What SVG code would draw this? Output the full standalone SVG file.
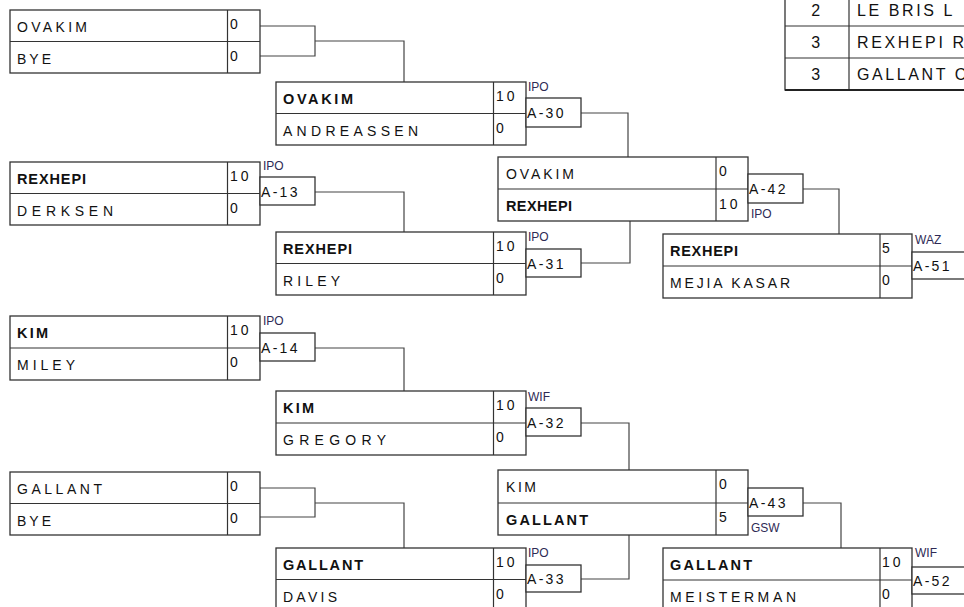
<svg xmlns="http://www.w3.org/2000/svg" width="964" height="607" viewBox="0 0 964 607">
<style>
text{font-family:"Liberation Sans",Arial,sans-serif;fill:#111;}
.nm{font-size:14px;}
.b{font-weight:bold;font-size:14.5px;}
.sc{font-size:14px;letter-spacing:3px;}
.al{font-size:14px;letter-spacing:2.3px;}
.rs{font-size:12px;fill:#2e2a55;}
.bx{fill:#fff;stroke:#333;stroke-width:1.3;}
.ln{fill:none;stroke:#333;stroke-width:1.2;}
.cn{fill:none;stroke:#444;stroke-width:1.2;}
.tb{font-size:16px;letter-spacing:2.6px;}
</style>
<rect width="964" height="607" fill="#fff"/>

<g id="connectors">
<polyline class="cn" points="260,26 315,26 315,56 260,56"/>
<polyline class="cn" points="315,41 404,41 404,82"/>
<polyline class="cn" points="315,192 404,192 404,232"/>
<polyline class="cn" points="315,348 404,348 404,391"/>
<polyline class="cn" points="260,488 315,488 315,517 260,517"/>
<polyline class="cn" points="315,503 404,503 404,548"/>
<polyline class="cn" points="581,113 628,113 628,157"/>
<polyline class="cn" points="581,263 630,263 630,221"/>
<polyline class="cn" points="803,189 839,189 839,234"/>
<polyline class="cn" points="581,423 629,423 629,470"/>
<polyline class="cn" points="581,579 629,579 629,535"/>
<polyline class="cn" points="803,503 841,503 841,548"/>
</g>

<g id="standings">
<rect x="785" y="-10" width="190" height="100" class="bx"/>
<line x1="785" y1="26" x2="964" y2="26" class="ln"/>
<line x1="785" y1="58" x2="964" y2="58" class="ln"/>
<line x1="849" y1="-10" x2="849" y2="90" class="ln"/>
<line x1="785" y1="90" x2="964" y2="90" stroke="#222" stroke-width="2.2"/>
<text class="tb" x="817" y="16" text-anchor="middle">2</text>
<text class="tb" x="857" y="16">LE BRIS L</text>
<text class="tb" x="817" y="48" text-anchor="middle">3</text>
<text class="tb" x="857" y="48">REXHEPI R</text>
<text class="tb" x="817" y="80" text-anchor="middle">3</text>
<text class="tb" x="857" y="80">GALLANT C</text>
</g>

<!-- Column 1 -->
<g id="m1">
<rect x="10" y="10" width="250" height="63" class="bx"/>
<line x1="10" y1="41.5" x2="260" y2="41.5" class="ln"/>
<line x1="227.5" y1="10" x2="227.5" y2="73" class="ln"/>
<text class="nm" x="17" y="32" textLength="70">OVAKIM</text>
<text class="sc" x="230" y="29">0</text>
<text class="nm" x="17" y="64" textLength="34">BYE</text>
<text class="sc" x="230" y="61">0</text>
</g>
<g id="m2">
<rect x="10" y="162" width="250" height="63" class="bx"/>
<line x1="10" y1="193.5" x2="260" y2="193.5" class="ln"/>
<line x1="227.5" y1="162" x2="227.5" y2="225" class="ln"/>
<text class="nm b" x="17" y="184" textLength="69">REXHEPI</text>
<text class="sc" x="230" y="181">10</text>
<text class="nm" x="17" y="216" textLength="96">DERKSEN</text>
<text class="sc" x="230" y="213">0</text>
<rect x="260" y="177" width="55" height="28" class="bx"/>
<text class="al" x="261" y="197">A-13</text>
<text class="rs" x="263" y="170">IPO</text>
</g>
<g id="m3">
<rect x="10" y="316" width="250" height="64" class="bx"/>
<line x1="10" y1="348" x2="260" y2="348" class="ln"/>
<line x1="227.5" y1="316" x2="227.5" y2="380" class="ln"/>
<text class="nm b" x="17" y="338" textLength="31">KIM</text>
<text class="sc" x="230" y="335">10</text>
<text class="nm" x="17" y="370" textLength="58">MILEY</text>
<text class="sc" x="230" y="367">0</text>
<rect x="260" y="333" width="55" height="28" class="bx"/>
<text class="al" x="261" y="353">A-14</text>
<text class="rs" x="263" y="325">IPO</text>
</g>
<g id="m4">
<rect x="10" y="472" width="250" height="63" class="bx"/>
<line x1="10" y1="503.5" x2="260" y2="503.5" class="ln"/>
<line x1="227.5" y1="472" x2="227.5" y2="535" class="ln"/>
<text class="nm" x="17" y="494" textLength="85">GALLANT</text>
<text class="sc" x="230" y="491">0</text>
<text class="nm" x="17" y="526" textLength="34">BYE</text>
<text class="sc" x="230" y="523">0</text>
</g>

<!-- Column 2 -->
<g id="m5">
<rect x="276" y="82" width="250" height="63" class="bx"/>
<line x1="276" y1="113.5" x2="526" y2="113.5" class="ln"/>
<line x1="493.5" y1="82" x2="493.5" y2="145" class="ln"/>
<text class="nm b" x="283" y="104" textLength="70">OVAKIM</text>
<text class="sc" x="496" y="101">10</text>
<text class="nm" x="283" y="136" textLength="135">ANDREASSEN</text>
<text class="sc" x="496" y="133">0</text>
<rect x="526" y="98" width="55" height="29" class="bx"/>
<text class="al" x="527" y="118">A-30</text>
<text class="rs" x="528" y="91">IPO</text>
</g>
<g id="m6">
<rect x="276" y="232" width="250" height="63" class="bx"/>
<line x1="276" y1="263.5" x2="526" y2="263.5" class="ln"/>
<line x1="493.5" y1="232" x2="493.5" y2="295" class="ln"/>
<text class="nm b" x="283" y="254" textLength="69">REXHEPI</text>
<text class="sc" x="496" y="251">10</text>
<text class="nm" x="283" y="286" textLength="57">RILEY</text>
<text class="sc" x="496" y="283">0</text>
<rect x="526" y="249" width="55" height="28" class="bx"/>
<text class="al" x="527" y="269">A-31</text>
<text class="rs" x="528" y="241">IPO</text>
</g>
<g id="m7">
<rect x="276" y="391" width="250" height="64" class="bx"/>
<line x1="276" y1="423" x2="526" y2="423" class="ln"/>
<line x1="493.5" y1="391" x2="493.5" y2="455" class="ln"/>
<text class="nm b" x="283" y="413" textLength="31">KIM</text>
<text class="sc" x="496" y="410">10</text>
<text class="nm" x="283" y="445" textLength="103">GREGORY</text>
<text class="sc" x="496" y="442">0</text>
<rect x="526" y="408" width="55" height="28" class="bx"/>
<text class="al" x="527" y="428">A-32</text>
<text class="rs" x="528" y="401">WIF</text>
</g>
<g id="m8">
<rect x="276" y="548" width="250" height="63" class="bx"/>
<line x1="276" y1="579.5" x2="526" y2="579.5" class="ln"/>
<line x1="493.5" y1="548" x2="493.5" y2="611" class="ln"/>
<text class="nm b" x="283" y="570" textLength="80">GALLANT</text>
<text class="sc" x="496" y="567">10</text>
<text class="nm" x="283" y="602" textLength="54">DAVIS</text>
<text class="sc" x="496" y="599">0</text>
<rect x="526" y="565" width="55" height="27" class="bx"/>
<text class="al" x="527" y="584">A-33</text>
<text class="rs" x="528" y="557">IPO</text>
</g>

<!-- Column 3 -->
<g id="m9">
<rect x="498" y="157" width="250" height="64" class="bx"/>
<line x1="498" y1="189" x2="748" y2="189" class="ln"/>
<line x1="716" y1="157" x2="716" y2="221" class="ln"/>
<text class="nm" x="506" y="179" textLength="68">OVAKIM</text>
<text class="sc" x="719" y="176">0</text>
<text class="nm b" x="506" y="211" textLength="66">REXHEPI</text>
<text class="sc" x="719" y="209">10</text>
<rect x="748" y="174" width="55" height="29" class="bx"/>
<text class="al" x="749" y="194">A-42</text>
<text class="rs" x="751" y="218">IPO</text>
</g>
<g id="m10">
<rect x="498" y="470" width="250" height="65" class="bx"/>
<line x1="498" y1="503" x2="748" y2="503" class="ln"/>
<line x1="716" y1="470" x2="716" y2="535" class="ln"/>
<text class="nm" x="506" y="492" textLength="30">KIM</text>
<text class="sc" x="719" y="489">0</text>
<text class="nm b" x="506" y="525" textLength="82">GALLANT</text>
<text class="sc" x="719" y="522">5</text>
<rect x="748" y="488" width="55" height="28" class="bx"/>
<text class="al" x="749" y="508">A-43</text>
<text class="rs" x="751" y="532">GSW</text>
</g>

<!-- Column 4 -->
<g id="m11">
<rect x="663" y="234" width="249" height="64" class="bx"/>
<line x1="663" y1="266" x2="912" y2="266" class="ln"/>
<line x1="880" y1="234" x2="880" y2="298" class="ln"/>
<text class="nm b" x="670" y="256" textLength="68">REXHEPI</text>
<text class="sc" x="882" y="253">5</text>
<text class="nm" x="670" y="288" textLength="120">MEJIA KASAR</text>
<text class="sc" x="882" y="285">0</text>
<rect x="912" y="252" width="60" height="27" class="bx"/>
<text class="al" x="913" y="271">A-51</text>
<text class="rs" x="915" y="244">WAZ</text>
</g>
<g id="m12">
<rect x="663" y="548" width="249" height="64" class="bx"/>
<line x1="663" y1="580" x2="912" y2="580" class="ln"/>
<line x1="880" y1="548" x2="880" y2="612" class="ln"/>
<text class="nm b" x="670" y="570" textLength="82">GALLANT</text>
<text class="sc" x="882" y="567">10</text>
<text class="nm" x="670" y="602" textLength="126">MEISTERMAN</text>
<text class="sc" x="882" y="599">0</text>
<rect x="912" y="567" width="60" height="27" class="bx"/>
<text class="al" x="913" y="586">A-52</text>
<text class="rs" x="915" y="557">WIF</text>
</g>
</svg>
